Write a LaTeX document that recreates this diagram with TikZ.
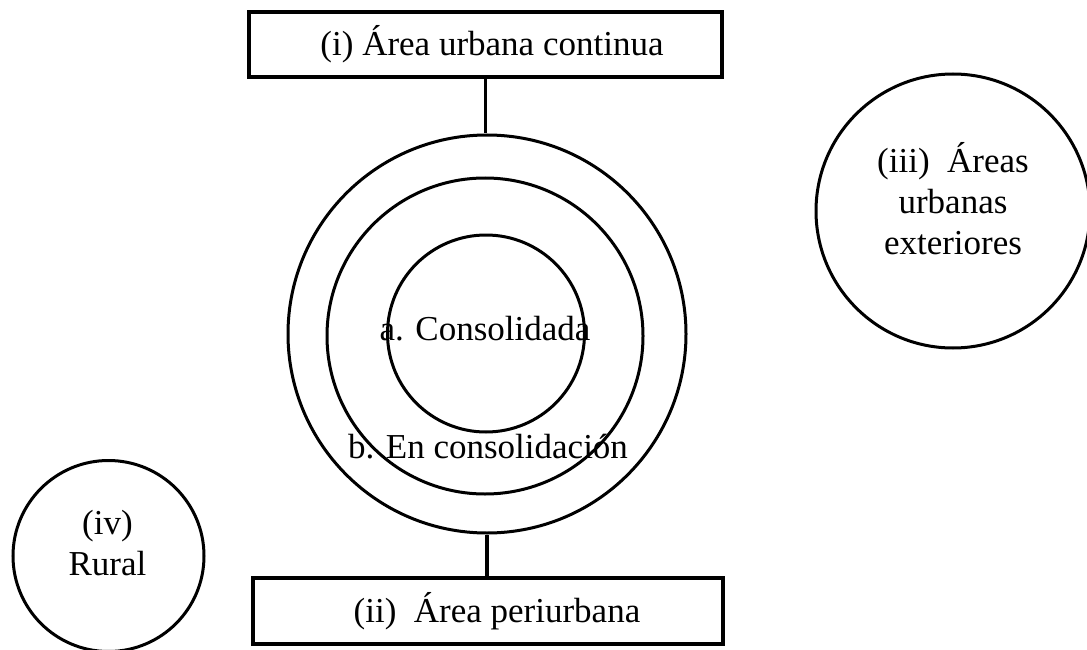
\documentclass[tikz,border=0pt]{standalone}
\usepackage{fontspec}
\setmainfont{Liberation Serif}
\begin{document}
\begin{tikzpicture}[x=1pt,y=-1pt,
  boxst/.style={draw,line width=3.5pt,minimum width=473pt,minimum height=65pt,inner sep=0pt,font=\fontsize{35}{41}\selectfont},
  ringst/.style={draw,circle,line width=3pt,inner sep=0pt},
  lbl/.style={font=\fontsize{35}{41}\selectfont,align=center,inner sep=0pt},
  conn/.style={line width=3.5pt}]
\useasboundingbox (0,0) rectangle (1087,650);
\node[boxst] (top) at (485.5,44.5) {\hspace*{13pt}(i) Área urbana continua};
\node[boxst,minimum width=470pt,minimum height=66pt] (bot) at (488,611) {\hspace*{18pt}(ii) \ Área periurbana};
\node[ringst,minimum size=398pt] (outer) at (487,334) {};
\node[ringst,minimum size=316pt] (middle) at (485,336) {};
\node[ringst,minimum size=197pt] (inner) at (486,333.5) {};
\node[lbl] (a) at (485,329) {a. Consolidada};
\node[lbl] (b) at (488,447) {b. En consolidación};
\node[ringst,minimum size=274pt] (ext) at (953,211) {};
\node[lbl] (exttxt) at (953,199) {(iii) \ Áreas\\urbanas\\exteriores};
\node[ringst,minimum size=191pt] (rur) at (108.5,556) {};
\node[lbl] (rurtxt) at (107.5,543) {(iv)\\Rural};
\draw[conn] (top.south) -- (top.south |- outer.north);
\draw[conn] (outer.south) -- (outer.south |- bot.north);
\end{tikzpicture}
\end{document}
